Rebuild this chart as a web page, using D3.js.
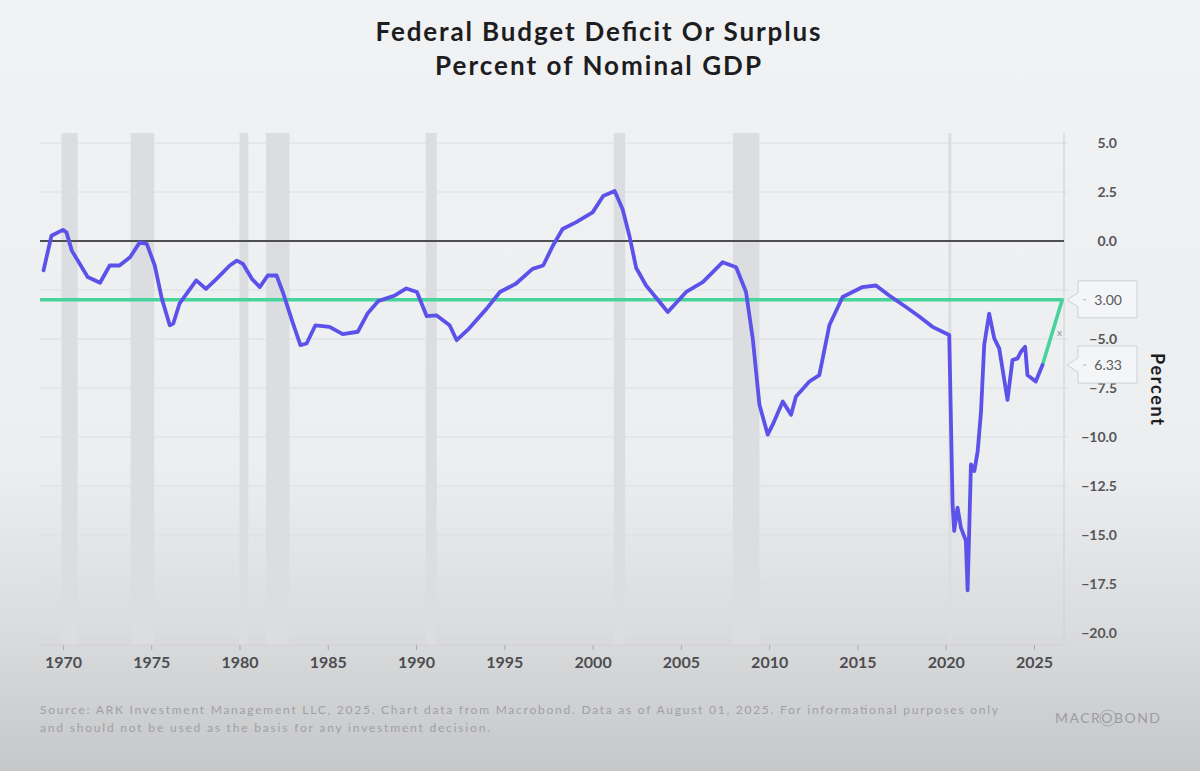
<!DOCTYPE html>
<html>
<head>
<meta charset="utf-8">
<script src="https://cdn.jsdelivr.net/npm/d3@7"></script>
<style>
  html, body { margin: 0; padding: 0; }
  body { width: 1200px; height: 771px; overflow: hidden; }
  svg { display: block; }
</style>
</head>
<body>
<svg id="chart" width="1200" height="771"></svg>
<script>
// deficit / surplus, % of nominal GDP
var years = [1968.9,1969.35,1970.0,1970.2,1970.5,1971.4,1972.1,1972.65,1973.2,1973.8,1974.35,1974.75,1975.2,1975.6,1976.05,1976.25,1976.6,1977.55,1978.1,1978.7,1979.45,1979.85,1980.2,1980.7,1981.15,1981.6,1982.1,1982.45,1983.0,1983.45,1983.8,1984.3,1985.1,1985.85,1986.7,1987.25,1987.85,1988.8,1989.45,1990.05,1990.6,1991.15,1991.9,1992.3,1993.0,1994.0,1994.75,1995.65,1996.6,1997.2,1997.75,1998.3,1999.05,2000.0,2000.6,2001.25,2001.7,2002.1,2002.47,2003.03,2004.26,2005.3,2006.24,2007.37,2008.13,2008.69,2009.07,2009.45,2009.92,2010.2,2010.77,2011.24,2011.52,2012.28,2012.84,2013.41,2014.16,2015.29,2016.05,2016.8,2017.75,2018.5,2019.25,2020.2,2020.39,2020.48,2020.67,2020.86,2021.14,2021.24,2021.43,2021.62,2021.81,2022.0,2022.18,2022.46,2022.75,2023.03,2023.5,2023.78,2024.07,2024.26,2024.5,2024.63,2025.1,2025.48];
var deficit = [-1.5,0.27,0.57,0.44,-0.49,-1.84,-2.13,-1.25,-1.25,-0.83,-0.07,-0.15,-1.25,-2.94,-4.3,-4.21,-3.2,-2.01,-2.44,-1.93,-1.25,-1.0,-1.17,-1.93,-2.35,-1.76,-1.76,-2.6,-4.13,-5.31,-5.23,-4.3,-4.38,-4.75,-4.63,-3.7,-3.07,-2.78,-2.42,-2.6,-3.83,-3.79,-4.3,-5.06,-4.47,-3.45,-2.6,-2.18,-1.42,-1.25,-0.24,0.61,0.95,1.46,2.3,2.55,1.62,0.2,-1.38,-2.27,-3.62,-2.6,-2.1,-1.08,-1.34,-2.6,-4.97,-8.36,-9.88,-9.37,-8.19,-8.87,-7.93,-7.17,-6.84,-4.3,-2.86,-2.35,-2.27,-2.78,-3.37,-3.85,-4.38,-4.8,-13.44,-14.79,-13.6,-14.62,-15.29,-17.83,-11.4,-11.74,-10.73,-8.7,-5.31,-3.71,-4.97,-5.48,-8.11,-6.08,-5.99,-5.65,-5.4,-6.84,-7.17,-6.33];

// target line (-3%) and the path back from the last reading
var targetYears = [1968.7, 2026.6, 2025.48];
var targetValues = [-3, -3, -6.33];

// recessions (shaded)
var recStart = [1969.92,1973.83,1980.0,1981.5,1990.55,2001.2,2007.95,2020.15];
var recEnd   = [1970.83,1975.17,1980.5,1982.83,1991.17,2001.85,2009.45,2020.32];

var xTicks = [1970,1975,1980,1985,1990,1995,2000,2005,2010,2015,2020,2025];
var yGrid = [5,2.5,-2.5,-5,-7.5,-10,-12.5,-15,-17.5,-20];
// -2.5 sits under the 3.00 callout, so it has no label
var yLabels = [5,2.5,0,-5,-7.5,-10,-12.5,-15,-17.5,-20];

var lastLabels = ["3.00", "6.33"];
var lastValues = [-3, -6.33];

var svg = d3.select("#chart");
var W = 1200, H = 771;
var plotL = 40, plotR = 1064, plotT = 133, plotB = 645;

var x = d3.scaleLinear().domain([1968.7, 2026.7]).range([plotL, plotR]);
var y = d3.scaleLinear().domain([-20, 5]).range([633, 143]);

// background, darker toward the bottom
var defs = svg.append("defs");
var bg = defs.append("linearGradient").attr("id","bg").attr("x1",0).attr("y1",0).attr("x2",0).attr("y2",1);
bg.append("stop").attr("offset","0%").attr("stop-color","#f1f2f4");
bg.append("stop").attr("offset","60%").attr("stop-color","#eceef0");
bg.append("stop").attr("offset","82%").attr("stop-color","#dadbdd");
bg.append("stop").attr("offset","100%").attr("stop-color","#c6c7c9");
svg.append("rect").attr("width",W).attr("height",H).attr("fill","url(#bg)");

// title
var title = svg.append("g").attr("font-family","Lato, 'DejaVu Sans', sans-serif").attr("font-weight",700).attr("fill","#1d1d1f").attr("text-anchor","middle");
title.append("text").attr("x",598).attr("y",41).attr("font-size",26).attr("textLength",445).text("Federal Budget Deficit Or Surplus");
title.append("text").attr("x",598).attr("y",75).attr("font-size",26).attr("textLength",326).text("Percent of Nominal GDP");

// recession bands
svg.append("g").selectAll("rect").data(recStart).join("rect")
  .attr("x", function(d){ return x(d); })
  .attr("width", function(d,i){ return x(recEnd[i]) - x(d); })
  .attr("y", plotT).attr("height", plotB - plotT)
  .attr("fill", "#dcdde1");

// grid
svg.append("g").selectAll("line").data(yGrid).join("line")
  .attr("x1", plotL).attr("x2", plotR + 4)
  .attr("y1", function(d){ return y(d); }).attr("y2", function(d){ return y(d); })
  .attr("stroke", "#dcdde0").attr("stroke-width", 1.2);

// frame right / bottom
svg.append("line").attr("x1",plotR).attr("x2",plotR).attr("y1",plotT).attr("y2",plotB).attr("stroke","#d3d4d7").attr("stroke-width",1.2);
svg.append("line").attr("x1",plotL).attr("x2",plotR).attr("y1",plotB).attr("y2",plotB).attr("stroke","#d3d4d7").attr("stroke-width",1.2);

// zero line
svg.append("line").attr("x1",plotL).attr("x2",plotR).attr("y1",y(0)).attr("y2",y(0)).attr("stroke","#4f4f52").attr("stroke-width",2);

// x axis
var xAxis = d3.axisBottom(x).tickValues(xTicks).tickFormat(d3.format("d")).tickSize(5).tickPadding(7);
var gx = svg.append("g").attr("transform","translate(0," + plotB + ")").call(xAxis);
gx.select(".domain").remove();
gx.selectAll(".tick line").attr("stroke","#a9aaad");
gx.selectAll("text").attr("font-family","Lato, 'DejaVu Sans', sans-serif").attr("font-size",16).attr("font-weight",700).attr("fill","#4d4d50");

// y axis on the right
var yAxis = d3.axisRight(y).tickValues(yLabels).tickFormat(d3.format(".1f")).tickSize(0).tickPadding(0);
var gy = svg.append("g").attr("transform","translate(1117,0)").call(yAxis);
gy.select(".domain").remove();
gy.selectAll("text").attr("text-anchor","end").attr("font-family","Lato, 'DejaVu Sans', sans-serif").attr("font-size",14).attr("font-weight",700).attr("fill","#55565a");

svg.append("text").attr("transform","translate(1151,389) rotate(90)").attr("text-anchor","middle")
  .attr("font-family","Lato, 'DejaVu Sans', sans-serif").attr("font-weight",700).attr("font-size",18).attr("fill","#1d1d1f")
  .attr("textLength",72).text("Percent");

// series
var line = d3.line().x(function(d){ return x(d[0]); }).y(function(d){ return y(d[1]); });
svg.append("path").datum(d3.zip(targetYears, targetValues)).attr("d", line)
  .attr("fill","none").attr("stroke","#47d49c").attr("stroke-width",3.6).attr("stroke-linejoin","round");
svg.append("path").datum(d3.zip(years, deficit)).attr("d", line)
  .attr("fill","none").attr("stroke","#5c52ea").attr("stroke-width",3.8).attr("stroke-linejoin","round").attr("stroke-linecap","round");

svg.append("text").attr("x",1057).attr("y",336).attr("font-family","Lato, sans-serif").attr("font-size",10).attr("fill","#8a8b8e").text("x");

// last value callouts
var call = svg.append("g").selectAll("g").data(lastLabels).join("g")
  .attr("transform", function(d,i){ return "translate(0," + y(lastValues[i]) + ")"; });
call.append("path")
  .attr("d", "M1078,-19 L1137,-19 L1137,18 L1078,18 L1078,7 L1067,0 L1078,-7 Z")
  .attr("fill","#f4f5f7").attr("stroke","#cfd0d3").attr("stroke-width",1);
call.append("line").attr("x1",1083).attr("x2",1086).attr("y1",0).attr("y2",0).attr("stroke","#b0b1b4");
call.append("text").attr("x",1122).attr("y",5).attr("text-anchor","end")
  .attr("font-family","Lato, 'DejaVu Sans', sans-serif").attr("font-size",14).attr("fill","#5a5b5f")
  .text(function(d){ return d; });

// footer
var foot = svg.append("g").attr("font-family","Lato, 'DejaVu Sans', sans-serif").attr("font-size",12).attr("fill","#9fa0a3");
foot.append("text").attr("x",40).attr("y",714).attr("textLength",958).attr("lengthAdjust","spacing")
  .text("Source: ARK Investment Management LLC, 2025. Chart data from Macrobond. Data as of August 01, 2025. For informational purposes only");
foot.append("text").attr("x",40).attr("y",732).attr("textLength",450).attr("lengthAdjust","spacing")
  .text("and should not be used as the basis for any investment decision.");

// logo
var logo = svg.append("g");
logo.append("text").attr("x",1055).attr("y",723).attr("textLength",105).attr("font-family","Lato, 'DejaVu Sans', sans-serif")
  .attr("font-size",14).attr("fill","#9c9da0").text("MACROBOND");
logo.append("circle").attr("cx",1108).attr("cy",718).attr("r",8).attr("fill","none").attr("stroke","#a9aaad").attr("stroke-width",1);
</script>
</body>
</html>
